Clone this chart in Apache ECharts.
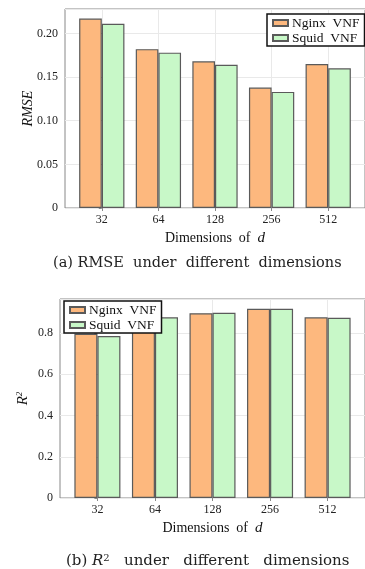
<!DOCTYPE html>
<html>
<head>
<meta charset="utf-8">
<script src="https://cdn.jsdelivr.net/npm/echarts@6/dist/echarts.min.js"></script>
<style>
  html, body { margin: 0; padding: 0; background: #fff; }
  #main { width: 365px; height: 569px; }
</style>
</head>
<body>
<div id="main"></div>
<script>
// dimensions of d (x categories)
var dims = ['32', '64', '128', '256', '512'];
var seriesNames = ['Nginx  VNF', 'Squid  VNF'];

// (a) RMSE
var rmseNginx = [0.217, 0.182, 0.168, 0.138, 0.165];
var rmseSquid = [0.211, 0.178, 0.164, 0.133, 0.160];

// (b) R^2
var r2Nginx = [0.796, 0.873, 0.896, 0.918, 0.876];
var r2Squid = [0.785, 0.876, 0.898, 0.918, 0.874];

var FONT = 'Liberation Serif';
var CAP_FONT = 'DejaVu Serif';
var orange = '#fdb87e';
var green = '#c8f8c8';
var edge = '#5a5a5a';
var idx = dims.map(function (d, i) { return i; });

function pairs(vals) {
  return vals.map(function (v, i) { return [i, v]; });
}

function xAxisFor(gridIndex) {
  return {
    type: 'value', gridIndex: gridIndex, min: -0.65, max: 4.65,
    name: '{n|Dimensions  of  }{i|d}',
    nameLocation: 'middle', nameGap: 23, nameMoveOverlap: false,
    nameTextStyle: {
      rich: {
        n: { fontFamily: FONT, fontSize: 14, color: '#111' },
        i: { fontFamily: FONT, fontSize: 15, fontStyle: 'italic', color: '#111' }
      }
    },
    axisLine: { show: false },
    axisTick: { show: true, customValues: idx, length: 3, lineStyle: { color: '#888' } },
    axisLabel: {
      customValues: idx, margin: 6, fontFamily: FONT, fontSize: 12, color: '#222',
      formatter: function (v) { return dims[Math.round(v)]; }
    },
    splitLine: { show: true, lineStyle: { color: '#e9e9e9', width: 1 } }
  };
}

function yAxisFor(gridIndex, max, interval, digits, name, gap) {
  return {
    type: 'value', gridIndex: gridIndex, min: 0, max: max, interval: interval,
    name: name, nameLocation: 'middle', nameGap: gap, nameRotate: 90, nameMoveOverlap: false,
    nameTextStyle: {
      fontFamily: FONT, fontSize: 14, fontStyle: 'italic', color: '#111',
      rich: {
        i: { fontFamily: FONT, fontSize: 15, fontStyle: 'italic', color: '#111' },
        s: { fontFamily: FONT, fontSize: 9, color: '#111', verticalAlign: 'bottom', padding: [0, 0, 8, 0] }
      }
    },
    axisLine: { show: false },
    axisTick: { show: true, length: 3, lineStyle: { color: '#888' } },
    axisLabel: {
      margin: 7, fontFamily: FONT, fontSize: 12, color: '#222', showMaxLabel: false,
      formatter: function (v) { return v === 0 ? '0' : v.toFixed(digits); }
    },
    splitLine: { show: true, lineStyle: { color: '#e9e9e9', width: 1 } }
  };
}

function barSeries(name, vals, color, axisIndex) {
  return {
    name: name, type: 'bar', xAxisIndex: axisIndex, yAxisIndex: axisIndex,
    data: pairs(vals), barWidth: '40%', barGap: '0%',
    itemStyle: { color: color, borderColor: edge, borderWidth: 1.2 },
    emphasis: { disabled: true }
  };
}

function legendAt(left, top) {
  return {
    left: left, top: top, orient: 'vertical', itemGap: 1,
    itemWidth: 15, itemHeight: 6, icon: 'rect',
    backgroundColor: '#fff', borderColor: '#111', borderWidth: 1.5, borderRadius: 0,
    padding: [2, 5, 1, 5], selectedMode: false,
    textStyle: { fontFamily: FONT, fontSize: 13.5, color: '#111', padding: [0, 0, 0, -1] },
    data: seriesNames
  };
}

var capStyle = { fontFamily: CAP_FONT, fontSize: 15, fontWeight: 'normal', color: '#222' };

var chart = echarts.init(document.getElementById('main'));
chart.setOption({
  animation: false,
  backgroundColor: '#fff',
  title: [
    {
      text: '(a) RMSE  under  different  dimensions',
      left: 48, top: 251,
      textStyle: { fontFamily: CAP_FONT, fontSize: 14.5, fontWeight: 'normal', color: '#222' }
    },
    {
      text: '{t|(b) }{i|R}{s|2}{t|   under   different   dimensions}',
      left: 61, top: 548,
      textStyle: {
        fontWeight: 'normal',
        rich: {
          t: capStyle,
          i: { fontFamily: CAP_FONT, fontSize: 15, fontWeight: 'normal', fontStyle: 'italic', color: '#222' },
          s: { fontFamily: CAP_FONT, fontSize: 10, fontWeight: 'normal', color: '#222', verticalAlign: 'bottom', padding: [0, 0, 7, 0] }
        }
      }
    }
  ],
  legend: [legendAt(267, 14), legendAt(64, 301)],
  grid: [
    { left: 65, top: 9, width: 302.6, height: 199, show: true, borderColor: '#888', borderWidth: 1, backgroundColor: 'transparent' },
    { left: 60, top: 299, width: 308, height: 199, show: true, borderColor: '#888', borderWidth: 1, backgroundColor: 'transparent' }
  ],
  xAxis: [xAxisFor(0), xAxisFor(1)],
  yAxis: [
    yAxisFor(0, 0.228, 0.05, 2, 'RMSE', 30),
    yAxisFor(1, 0.965, 0.2, 1, '{i|R}{s|2}', 28)
  ],
  series: [
    barSeries(seriesNames[0], rmseNginx, orange, 0),
    barSeries(seriesNames[1], rmseSquid, green, 0),
    barSeries(seriesNames[0], r2Nginx, orange, 1),
    barSeries(seriesNames[1], r2Squid, green, 1)
  ]
});
</script>
</body>
</html>
